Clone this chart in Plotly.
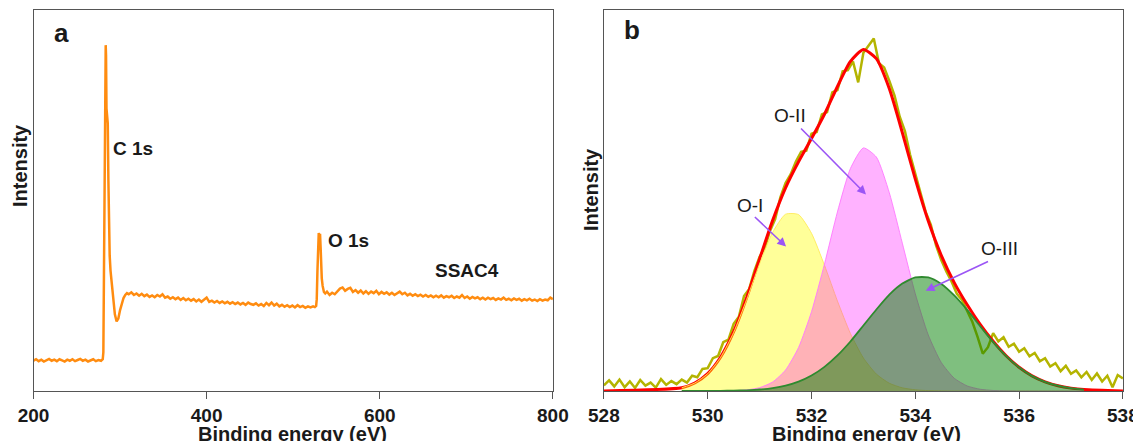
import plotly.graph_objects as go

FONT = "Liberation Sans, Arial, sans-serif"

# ---------------- Panel a: survey spectrum ----------------
seg1_energy = list(range(200, 279, 3))
seg1_intensity = [7.2, 7.6, 7.1, 7.5, 7.0, 7.4, 7.7, 7.2, 7.5, 7.1, 7.6, 7.3, 7.0, 7.5,
                  7.2, 7.6, 7.1, 7.4, 7.7, 7.2, 7.5, 7.0, 7.3, 7.6, 7.1, 7.4, 7.2]

c1s_energy = [280, 280.7, 281, 281.8, 282.6, 283.0, 283.4, 283.8, 284.3, 285.0, 285.8,
              286.5, 287.2, 288.0, 289.0, 290.5, 292, 294, 296, 298, 300, 302, 304,
              306, 308, 310]
c1s_intensity = [7.6, 9.5, 18, 40, 71, 86, 90.7, 88, 74, 72, 70, 55, 42, 35, 31, 27,
                 23.5, 19.5, 17.6, 18.4, 20.6, 22.5, 23.8, 24.6, 25.1, 24.8]

seg3_energy = list(range(313, 524, 3))
seg3_intensity = [25.3, 24.6, 25.0, 24.4, 24.9, 24.3, 24.7, 24.1, 24.5, 24.0, 24.6, 24.2,
                  24.8, 23.9, 24.2, 23.6, 24.0, 23.5, 23.9, 23.3, 23.8, 23.2, 23.6, 23.1,
                  23.5, 22.9, 23.4, 22.8, 23.3, 23.9, 22.8, 23.1, 22.6, 23.0, 22.5, 22.9,
                  22.4, 22.8, 22.3, 22.7, 22.2, 22.6, 22.1, 22.5, 22.0, 22.6, 22.2, 22.0,
                  22.4, 21.8, 22.2, 21.7, 22.5, 21.9, 22.6, 21.8, 22.3, 21.6, 22.0, 21.5,
                  21.9, 21.4, 21.8, 21.3, 21.9, 21.4, 21.7, 21.2, 21.6, 21.3, 21.6]

o1s_energy = [525, 526.5, 527.2, 528, 528.8, 529.5, 530.3, 531, 531.7, 532.3, 533, 534,
              535.5, 537, 539]
o1s_intensity = [21.4, 21.7, 23.5, 31, 39, 41, 40.2, 40.8, 37, 32, 29, 27, 25.4, 25.0, 25.5]

seg5_energy = list(range(542, 801, 3))
seg5_intensity = [24.6, 25.2, 24.8, 25.6, 26.3, 26.6, 25.7, 26.2, 26.5, 25.4, 25.9, 25.2,
                  25.8, 25.0, 25.6, 24.9, 25.5, 25.1, 25.7, 24.8, 25.4, 24.9, 25.3, 24.7,
                  25.2, 24.6, 25.1, 25.5, 24.8, 25.2, 24.5, 24.9, 24.4, 24.8, 24.3, 24.7,
                  24.2, 24.6, 24.1, 24.5, 24.0, 24.4, 24.0, 24.5, 23.9, 24.3, 24.0, 24.4,
                  23.8, 24.2, 23.9, 24.6, 23.8, 24.2, 23.6, 24.1, 23.7, 24.0, 23.5, 23.9,
                  23.4, 23.9, 23.5, 23.8, 23.3, 23.7, 23.4, 23.9, 23.3, 23.6, 23.2, 23.7,
                  23.3, 23.6, 23.1, 23.5, 23.2, 23.6, 23.1, 23.4, 23.0, 23.5, 23.1, 23.4,
                  23.2, 23.9, 23.5]

survey_energy = seg1_energy + c1s_energy + seg3_energy + o1s_energy + seg5_energy
survey_intensity = seg1_intensity + c1s_intensity + seg3_intensity + o1s_intensity + seg5_intensity

survey_ticks = [200, 400, 600, 800]

# ---------------- Panel b: O 1s high resolution ----------------
raw_energy = [round(528 + 0.1 * i, 1) for i in range(101)]
raw_intensity = [1.5, 2.8, 1.2, 3.0, 1.0, 2.5, 0.8, 2.9, 1.4, 2.2, 0.9, 3.1, 1.6, 2.6, 1.8,
                 3.0, 2.2, 4.0, 3.6, 5.8, 6.0, 8.6, 9.2, 12.8, 13.5, 17.6, 19.5, 24.9, 26.8,
                 31.5, 35.2, 37.6, 42.0, 45.1, 50.8, 54.6, 56.9, 60.2, 62.8, 63.1, 67.5,
                 68.0, 72.6, 73.2, 78.4, 79.0, 83.9, 84.2, 86.5, 81.0, 88.8, 90.5, 92.5,
                 86.0, 84.9, 81.4, 77.5, 72.0, 68.2, 62.0, 57.1, 52.2, 47.0, 43.6, 38.2,
                 34.4, 31.3, 28.7, 25.5, 23.9, 21.0, 18.1, 14.2, 9.8, 11.5, 15.2, 13.0,
                 14.1, 11.6, 12.4, 10.3, 11.2, 9.1, 10.0, 7.8, 8.6, 6.4, 7.3, 5.2, 6.6,
                 4.5, 5.4, 3.6, 5.0, 2.9, 4.6, 2.5, 4.0, 1.0, 4.2, 3.3]

fit_energy = [529.5 + 0.25 * i for i in range(32)]
o1_values = [0.86, 2.10, 4.56, 8.87, 15.4, 24.0, 33.4, 41.6, 46.4, 46.3, 41.4, 33.0,
             23.6, 15.1, 8.65, 4.43, 2.03, 0.83, 0.31, 0.10, 0.03,
             0, 0, 0, 0, 0, 0, 0, 0, 0, 0, 0]
o2_values = [0, 0, 0, 0.02, 0.08, 0.29, 0.88, 2.35, 5.51, 11.4, 20.8, 33.3, 47.0, 58.4,
             63.8, 61.4, 52.0, 38.8, 25.5, 14.7, 7.49, 3.35, 1.32, 0.46, 0.14, 0.04,
             0, 0, 0, 0, 0, 0]
o3_values = [0.0, 0.01, 0.02, 0.04, 0.09, 0.19, 0.39, 0.77, 1.41, 2.46, 4.06, 6.33, 9.33,
             13.0, 17.2, 21.4, 25.3, 28.2, 29.8, 29.8, 28.1, 25.1, 21.3, 17.0, 12.9, 9.20,
             6.22, 3.98, 2.41, 1.38, 0.75, 0.38]
envelope_energy = [528.0] + fit_energy + [538.0]
envelope_values = [0.0] + [a + b + c for a, b, c in zip(o1_values, o2_values, o3_values)] + [0.0]

hr_ticks = [528, 530, 532, 534, 536, 538]

# page body adds an 8 px margin; lay out in reference pixels shifted by it
OFF = 8
W, H = 1141 - OFF, 441 - OFF


def px(x):
    return (x - OFF) / W


def py(y):
    return 1 - (y - OFF) / H


fig = go.Figure()

fig.add_trace(go.Scatter(x=survey_energy, y=survey_intensity, mode="lines",
                         line=dict(color="#ff8c10", width=2.5), xaxis="x", yaxis="y",
                         showlegend=False))

fig.add_trace(go.Scatter(x=raw_energy, y=raw_intensity, mode="lines",
                         line=dict(color="#b4b400", width=2.5), xaxis="x2", yaxis="y2",
                         showlegend=False))
fig.add_trace(go.Scatter(x=envelope_energy, y=envelope_values, mode="lines",
                         line=dict(color="#ff0000", width=3, shape="spline", smoothing=0.6),
                         xaxis="x2", yaxis="y2", showlegend=False))
fig.add_trace(go.Scatter(x=fit_energy, y=o1_values, mode="lines", fill="tozeroy",
                         fillcolor="rgba(255,255,0,0.40)",
                         line=dict(color="rgba(255,235,90,0.9)", width=1, shape="spline", smoothing=0.6),
                         xaxis="x2", yaxis="y2", showlegend=False))
fig.add_trace(go.Scatter(x=fit_energy, y=o2_values, mode="lines", fill="tozeroy",
                         fillcolor="rgba(255,0,255,0.30)",
                         line=dict(color="rgba(255,120,255,0.9)", width=1, shape="spline", smoothing=0.6),
                         xaxis="x2", yaxis="y2", showlegend=False))
fig.add_trace(go.Scatter(x=fit_energy, y=o3_values, mode="lines", fill="tozeroy",
                         fillcolor="rgba(0,128,0,0.50)",
                         line=dict(color="#2f8a2f", width=1.8, shape="spline", smoothing=0.6),
                         xaxis="x2", yaxis="y2", showlegend=False))

axis_common = dict(showline=True, linecolor="#555555", linewidth=1, mirror=True,
                   showgrid=False, zeroline=False, automargin=False)
xcommon = dict(axis_common, ticks="outside", ticklen=7, tickcolor="#555555", tickwidth=1,
               tickfont=dict(family=FONT, size=19, color="#1a1a1a", weight=700))
ycommon = dict(axis_common, ticks="", showticklabels=False)

ydom = [py(391), py(10)]
fig.update_layout(
    width=W, height=H,
    margin=dict(l=0, r=0, t=0, b=0),
    paper_bgcolor="white", plot_bgcolor="white",
    xaxis=dict(xcommon, domain=[px(33.5), px(552.9)], range=[200, 800],
               tickvals=survey_ticks, anchor="y"),
    yaxis=dict(ycommon, domain=ydom, range=[-0.8, 100], anchor="x"),
    xaxis2=dict(xcommon, domain=[px(603.9), px(1122.9)], range=[528, 538],
                tickvals=hr_ticks, anchor="y2"),
    yaxis2=dict(ycommon, domain=ydom, range=[0, 100], anchor="x2"),
)

bold = dict(family=FONT, size=19, color="#1a1a1a", weight=700)
title_font = dict(family=FONT, size=20, color="#1a1a1a", weight=700)
label_font = dict(family=FONT, size=19, color="#1a1a1a")
arrow_color = "#9b55f5"

ann = []
for cx in (292.5, 866.0):
    ann.append(dict(text="Binding energy (eV)", x=px(cx), y=py(434), xref="paper",
                    yref="paper", xanchor="center", yanchor="middle", showarrow=False,
                    font=title_font))
ann.append(dict(text="Intensity", x=px(20), y=py(166), xref="paper", yref="paper",
                xanchor="center", yanchor="middle", textangle=-90, showarrow=False,
                font=title_font))
ann.append(dict(text="Intensity", x=px(591), y=py(190), xref="paper", yref="paper",
                xanchor="center", yanchor="middle", textangle=-90, showarrow=False,
                font=title_font))
ann.append(dict(text="a", x=px(61), y=py(33), xref="paper", yref="paper",
                xanchor="center", yanchor="middle", showarrow=False,
                font=dict(family=FONT, size=26, color="#1a1a1a", weight=700)))
ann.append(dict(text="b", x=px(631.5), y=py(30), xref="paper", yref="paper",
                xanchor="center", yanchor="middle", showarrow=False,
                font=dict(family=FONT, size=26, color="#1a1a1a", weight=700)))
ann.append(dict(text="C 1s", x=289.5, y=63.4, xref="x", yref="y", xanchor="left",
                yanchor="middle", showarrow=False, font=bold))
ann.append(dict(text="O 1s", x=537.5, y=39.1, xref="x", yref="y", xanchor="left",
                yanchor="middle", showarrow=False, font=bold))
ann.append(dict(text="SSAC4", x=700.5, y=31.0, xref="x", yref="y", xanchor="center",
                yanchor="middle", showarrow=False, font=bold))
ann.append(dict(text="O-I", x=530.81, y=48.7, xref="x2", yref="y2", xanchor="center",
                yanchor="middle", showarrow=False, font=label_font))
ann.append(dict(text="O-II", x=531.58, y=72.4, xref="x2", yref="y2", xanchor="center",
                yanchor="middle", showarrow=False, font=label_font))
ann.append(dict(text="O-III", x=535.62, y=37.4, xref="x2", yref="y2", xanchor="center",
                yanchor="middle", showarrow=False, font=label_font))
arrows = [((531.51, 37.9), (530.88, 46.05)),
          ((533.05, 51.6), (531.77, 69.3)),
          ((534.20, 26.3), (535.43, 34.2))]
for (hx, hy), (tx, ty) in arrows:
    ann.append(dict(text="", x=hx, y=hy, ax=tx, ay=ty, xref="x2", yref="y2",
                    axref="x2", ayref="y2", showarrow=True, arrowhead=2, arrowsize=1.1,
                    arrowwidth=1.6, arrowcolor=arrow_color))

fig.update_layout(annotations=ann)

fig.write_html("out.html")
